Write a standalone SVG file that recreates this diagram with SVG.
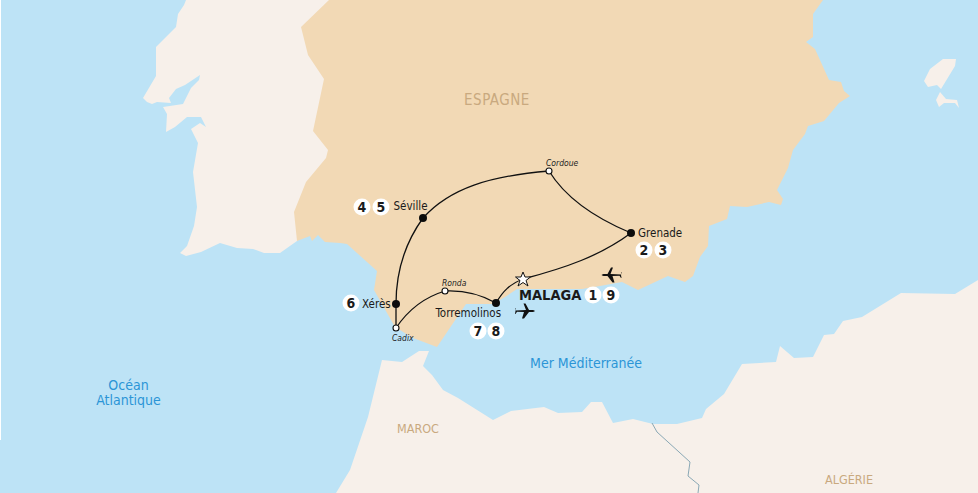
<svg xmlns="http://www.w3.org/2000/svg" width="978" height="493" viewBox="0 0 978 493">
<defs>
<style>
text{font-family:"DejaVu Sans Condensed","DejaVu Sans","Noto Sans",sans-serif;font-stretch:condensed}
.sea{fill:#bde3f6}
.land{fill:#f7f0ea}
.spain{fill:#f2d9b5}
.route{fill:none;stroke:#111;stroke-width:1.3}
.stop{fill:#0c0c0c}
.open{fill:#fff;stroke:#111;stroke-width:1.1}
.badge circle{fill:#fff}
.badge text{font-size:14px;font-weight:700;fill:#1a1a1a;text-anchor:middle}
.city{font-size:11.5px;fill:#1a1a1a}
.small{font-size:8.5px;font-style:italic;fill:#222}
.water{font-size:14px;fill:#2b95d6;text-anchor:middle}
.country{font-size:12.5px;fill:#c9a97f;text-anchor:middle}
</style>
<path id="plane" d="M-9.5,-0.6L1,-1L-1.5,-7.5L0.5,-7.5L4,-1L8,-1Q9.5,-0.5 10,0Q9.5,0.5 8,1L4,1L-1,7.5L-3,7.5L-1,1L-8,0.8L-9.5,3L-10,3L-9.5,0L-10,-3L-9.5,-3Z" fill="#111"/>
</defs>
<rect id="background" width="978" height="493" class="sea"/>
<rect x="0" y="0" width="1" height="440" fill="#fff"/>
<g id="map">
<path class="land" d="M186,0L184,5L178,14L176,27L156,47L156,76L143,98L147,102L152,104L157,102L171,103L169,98L176,89L185,85L200,75L199,80L191,88L183,104L163,107L167,114L166,132L175,127L187,117L201,117L206,127L200,123L191,129L198,143L193,172L197,207L194,226L187,246L180,253L186,256L201,252L220,243L237,248L253,249L264,253L280,253L297,241L340,200L340,0Z"/>
<path class="spain" d="M329,0L301,27L308,55L324,79L313,131L328,150L326,158L306,182L294,212L297,241L310,236L312,241L318,235L325,242L340,243L347,244L377,271L374,290L395,327L413,338L437,347L466,304L493,304L505,297L517,289L582,289L600,286L622,282L638,290L668,276L685,282L693,276L700,257L708,246L709,226L727,219L730,206L747,207L769,202L781,205L783,199L777,190L788,168L793,150L805,134L808,126L824,121L839,103L850,96L844,91L841,82L829,80L815,49L806,42L813,37L813,14L823,0Z"/>
<path class="land" d="M336,493L350,470L368,417L382,360L402,362L419,351L429,351L423,366L432,375L443,390L458,398L493,420L511,411L544,407L558,413L582,412L591,402L602,402L613,423L633,419L653,424L677,424L702,418L706,409L724,394L742,364L776,362L780,346L794,358L813,357L824,335L834,334L843,321L862,317L901,293L955,294L978,280L978,493Z"/>
<path class="land" d="M924,81L930,69L943,59L956,59L955,66L941,89L937,85L928,87Z"/>
<path class="land" d="M940,92L946,99L957,100L959,108L955,103L944,103L939,107L936,100Z"/>
<path d="M652,423L657,432L690,462L688,476L699,485L698,493" fill="none" stroke="#8aa8b5" stroke-width="1"/>
<text class="country" x="497" y="105" style="font-size:15px;letter-spacing:.5px">ESPAGNE</text>
<text class="country" x="418" y="433">MAROC</text>
<text class="country" x="849" y="484">ALGÉRIE</text>
<text class="water" x="586" y="368">Mer Méditerranée</text>
<text class="water" x="128.5" y="390">Océan</text>
<text class="water" x="128.5" y="405">Atlantique</text>
</g>
<g id="connectors">
<path class="route" d="M396,328L396,304C396,270 405,243 423,218C450,188 490,176 549,171C565,197 595,218 631,233C600,256 565,268 523,279C510,284 503,291 496,303C480,294 465,290 445,291C425,297 408,310 396,328"/>
</g>
<g id="node-seville"><circle class="stop" cx="423" cy="218" r="4"/><text class="city" x="393.5" y="210">Séville</text>
<g class="badge"><circle cx="362" cy="207" r="8.5"/><text x="362" y="212">4</text><circle cx="381" cy="207" r="8.5"/><text x="381" y="212">5</text></g></g>
<g id="node-cordoue"><circle class="open" cx="549" cy="171" r="3"/><text class="small" x="546" y="166">Cordoue</text></g>
<g id="node-grenade"><circle class="stop" cx="631" cy="233" r="4"/><text class="city" x="638" y="237">Grenade</text>
<g class="badge"><circle cx="644" cy="250" r="8.5"/><text x="644" y="255">2</text><circle cx="663" cy="250" r="8.5"/><text x="663" y="255">3</text></g></g>
<g id="node-xeres"><circle class="stop" cx="396" cy="304" r="4"/><text class="city" x="362" y="308">Xérès</text>
<g class="badge"><circle cx="351" cy="303" r="8.5"/><text x="351" y="308">6</text></g></g>
<g id="node-cadix"><circle class="open" cx="396" cy="328" r="3"/><text class="small" x="392" y="341">Cadix</text></g>
<g id="node-ronda"><circle class="open" cx="445" cy="291" r="3"/><text class="small" x="442" y="286">Ronda</text></g>
<g id="node-torremolinos"><circle class="stop" cx="496" cy="303" r="4"/><text class="city" x="435.5" y="317">Torremolinos</text>
<g class="badge"><circle cx="478" cy="331" r="8.5"/><text x="478" y="336">7</text><circle cx="496" cy="331" r="8.5"/><text x="496" y="336">8</text></g></g>
<g id="node-malaga"><polygon points="523,272 525,277 530.5,277 526,280.5 528,286 523,282.5 518,286 520,280.5 515.5,277 521,277" fill="#fff" stroke="#111" stroke-width="1"/>
<text x="519" y="300" style="font-size:14.5px;font-weight:700;fill:#1a1a1a">MALAGA</text>
<g class="badge"><circle cx="593" cy="295" r="8.5"/><text x="593" y="300">1</text><circle cx="611" cy="295" r="8.5"/><text x="611" y="300">9</text></g></g>
<g id="planes"><use href="#plane" transform="translate(611.5,275) scale(-1,1)"/><use href="#plane" transform="translate(525,311)"/></g>
</svg>
